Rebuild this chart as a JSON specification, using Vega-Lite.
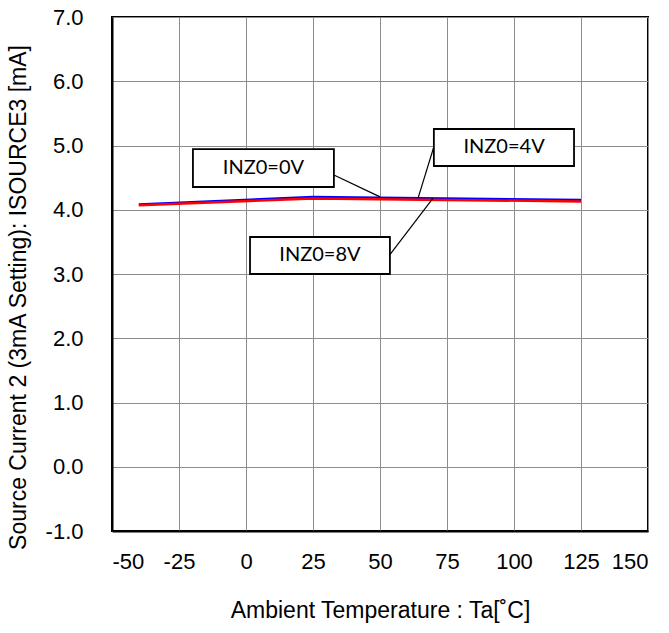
{
  "$schema": "https://vega.github.io/schema/vega-lite/v6.json",
  "width": 536,
  "height": 514,
  "autosize": "none",
  "padding": {"left": 112, "top": 17, "right": 21, "bottom": 102},
  "background": "white",
  "config": {
    "view": {"stroke": "black", "strokeWidth": 2},
    "axis": {
      "domainColor": "black",
      "domainWidth": 2,
      "gridColor": "#8c8c8c",
      "gridWidth": 1,
      "ticks": false,
      "tickSize": 0,
      "labelFont": "Liberation Sans",
      "labelFontSize": 22,
      "labelColor": "black",
      "labelExpr": "replace(datum.label, '\u2212', '-')",
      "titleFont": "Liberation Sans",
      "titleFontSize": 23,
      "titleFontWeight": "normal",
      "titleColor": "black"
    }
  },
  "datasets": {
    "series": [
      {"temp": -40, "current": 4.08, "cond": "INZ0=0V"},
      {"temp": 25, "current": 4.20, "cond": "INZ0=0V"},
      {"temp": 125, "current": 4.15, "cond": "INZ0=0V"},
      {"temp": -40, "current": 4.07, "cond": "INZ0=8V"},
      {"temp": 25, "current": 4.175, "cond": "INZ0=8V"},
      {"temp": 125, "current": 4.13, "cond": "INZ0=8V"}
    ],
    "labels": [
      {"label": "INZ0=0V", "x1": -19.8, "x2": 32.8, "y1": 4.945, "y2": 4.354, "xc": 6.5, "yc": 4.65, "lx1": 32.8, "ly1": 4.54, "lx2": 50.0, "ly2": 4.20},
      {"label": "INZ0=4V", "x1": 70.1, "x2": 122.4, "y1": 5.257, "y2": 4.681, "xc": 96.3, "yc": 4.97, "lx1": 70.1, "ly1": 4.98, "lx2": 64.2, "ly2": 4.18},
      {"label": "INZ0=8V", "x1": 1.5, "x2": 53.7, "y1": 3.576, "y2": 3.0, "xc": 27.6, "yc": 3.29, "lx1": 53.7, "ly1": 3.30, "lx2": 69.8, "ly2": 4.18}
    ]
  },
  "layer": [
    {
      "data": {"name": "series"},
      "mark": {"type": "line", "strokeWidth": 2.5, "clip": true},
      "encoding": {
        "x": {
          "field": "temp", "type": "quantitative",
          "scale": {"domain": [-50, 150], "nice": false, "zero": false},
          "axis": {
            "values": [-50, -25, 0, 25, 50, 75, 100, 125, 150],
            "title": "Ambient Temperature : Ta[˚C]",
            "labelPadding": 20,
            "titlePadding": 27
          }
        },
        "y": {
          "field": "current", "type": "quantitative",
          "scale": {"domain": [-1, 7], "nice": false, "zero": false},
          "axis": {
            "values": [-1, 0, 1, 2, 3, 4, 5, 6, 7],
            "format": ".1f",
            "title": "Source Current 2 (3mA Setting): ISOURCE3 [mA]",
            "labelPadding": 29,
            "titlePadding": 15,
            "titleY": 280
          }
        },
        "color": {
          "field": "cond", "type": "nominal",
          "scale": {"domain": ["INZ0=0V", "INZ0=8V"], "range": ["#0000ff", "#ff0000"]},
          "legend": null
        }
      }
    },
    {
      "data": {"name": "labels"},
      "mark": {"type": "rule", "color": "black", "strokeWidth": 1.2},
      "encoding": {
        "x": {"field": "lx1", "type": "quantitative"},
        "y": {"field": "ly1", "type": "quantitative"},
        "x2": {"field": "lx2"},
        "y2": {"field": "ly2"}
      }
    },
    {
      "data": {"name": "labels"},
      "mark": {"type": "rect", "fill": "white", "stroke": "black", "strokeWidth": 1.8},
      "encoding": {
        "x": {"field": "x1", "type": "quantitative"},
        "x2": {"field": "x2"},
        "y": {"field": "y1", "type": "quantitative"},
        "y2": {"field": "y2"}
      }
    },
    {
      "data": {"name": "labels"},
      "mark": {"type": "text", "font": "Lato", "fontSize": 20, "color": "black", "align": "center", "baseline": "middle"},
      "encoding": {
        "x": {"field": "xc", "type": "quantitative"},
        "y": {"field": "yc", "type": "quantitative"},
        "text": {"field": "label"}
      }
    }
  ]
}
